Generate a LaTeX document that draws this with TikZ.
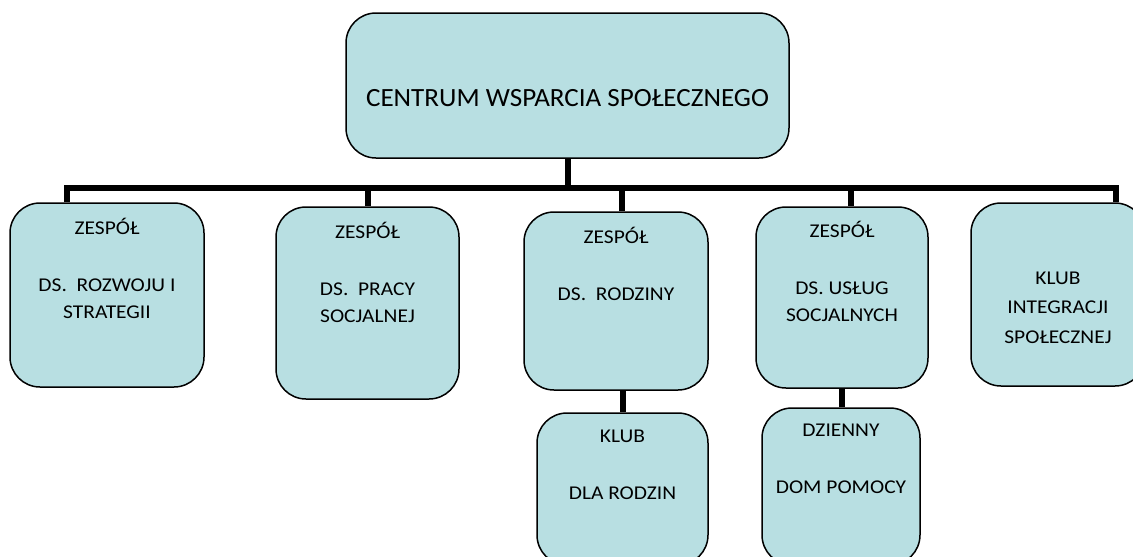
\documentclass[tikz,border=0pt]{standalone}
\usepackage{fontspec}
\setmainfont{Carlito}
\newfontfamily\smallfam{Carlito}[FakeStretch=1.1]
\newfontfamily\bigfam{Carlito}[FakeStretch=1.03]
\definecolor{boxfill}{HTML}{B8DFE2}
\begin{document}
\begin{tikzpicture}[x=1pt,y=-1pt,
  box/.style={draw=black, line width=1.5pt, fill=boxfill, rounded corners=30pt, inner sep=0pt},
  txt/.style={align=center, anchor=north, inner sep=0pt, font=\smallfam\fontsize{19.5}{27}\selectfont},
  conn/.style={draw=black, line width=6pt, line join=miter}]
\useasboundingbox (0,0) rectangle (1133,557);
\clip (0,0) rectangle (1133,557);
% boxes
\node[box, minimum width=443pt, minimum height=145pt] (top) at (567.5,85.5) {};
\node[box, minimum width=194pt, minimum height=184pt] (b1) at (107,295) {};
\node[box, minimum width=183pt, minimum height=192pt] (b2) at (367.5,303) {};
\node[box, minimum width=184pt, minimum height=178pt] (b3) at (616,301) {};
\node[box, minimum width=172pt, minimum height=181pt] (b4) at (842,297.5) {};
\node[box, minimum width=174pt, minimum height=183pt] (b5) at (1058,294.5) {};
\node[box, minimum width=171pt, minimum height=152pt] (b6) at (622.5,489) {};
\node[box, minimum width=158pt, minimum height=157pt] (b7) at (841,486.5) {};
% texts
\node[inner sep=0pt, font=\bigfam\fontsize{26.3}{32}\selectfont] (ttop) at ([yshift=-13pt]top.center) {CENTRUM WSPARCIA SPOŁECZNEGO};
\node[txt] (t1) at ([yshift=-12pt]b1.north) {\rule{0pt}{20pt}ZESPÓŁ\\[30pt]DS.~~ROZWOJU I\\STRATEGII};
\node[txt] (t2) at ([yshift=-12pt]b2.north) {\rule{0pt}{20pt}ZESPÓŁ\\[30pt]DS.~~PRACY\\SOCJALNEJ};
\node[txt] (t3) at ([yshift=-12pt]b3.north) {\rule{0pt}{20pt}ZESPÓŁ\\[30pt]DS.~~RODZINY};
\node[txt] (t4) at ([yshift=-11pt]b4.north) {\rule{0pt}{20pt}ZESPÓŁ\\[30pt]DS. USŁUG\\SOCJALNYCH};
\node[txt, font=\smallfam\fontsize{19.5}{29.5}\selectfont] (t5) at ([yshift=-62pt]b5.north) {\rule{0pt}{20pt}KLUB\\INTEGRACJI\\SPOŁECZNEJ};
\node[txt] (t6) at ([yshift=-10pt]b6.north) {\rule{0pt}{20pt}KLUB\\[30pt]DLA RODZIN};
\node[txt] (t7) at ([yshift=-9pt]b7.north) {\rule{0pt}{20pt}DZIENNY\\[30pt]DOM POMOCY};
% connectors
\coordinate (s1) at (67,188);
\coordinate (s2) at (368,188);
\coordinate (s3) at (622,188);
\coordinate (s4) at (851,188);
\coordinate (s5) at (1116,188);
\coordinate (s0) at (568,188);
\draw[conn] (s1 |- b1.north) -- (s1) -- (s5) -- (s5 |- b5.north);
\draw[conn] (top.south -| s0) -- (s0);
\draw[conn] (s2) -- (s2 |- b2.north);
\draw[conn] (s3) -- (s3 |- b3.north);
\draw[conn] (s4) -- (s4 |- b4.north);
\draw[conn] (b3.south -| b6.north) -- (b6.north);
\coordinate (s7) at (842,400);
\draw[conn] (s7 |- b4.south) -- (s7 |- b7.north);
\end{tikzpicture}
\end{document}
